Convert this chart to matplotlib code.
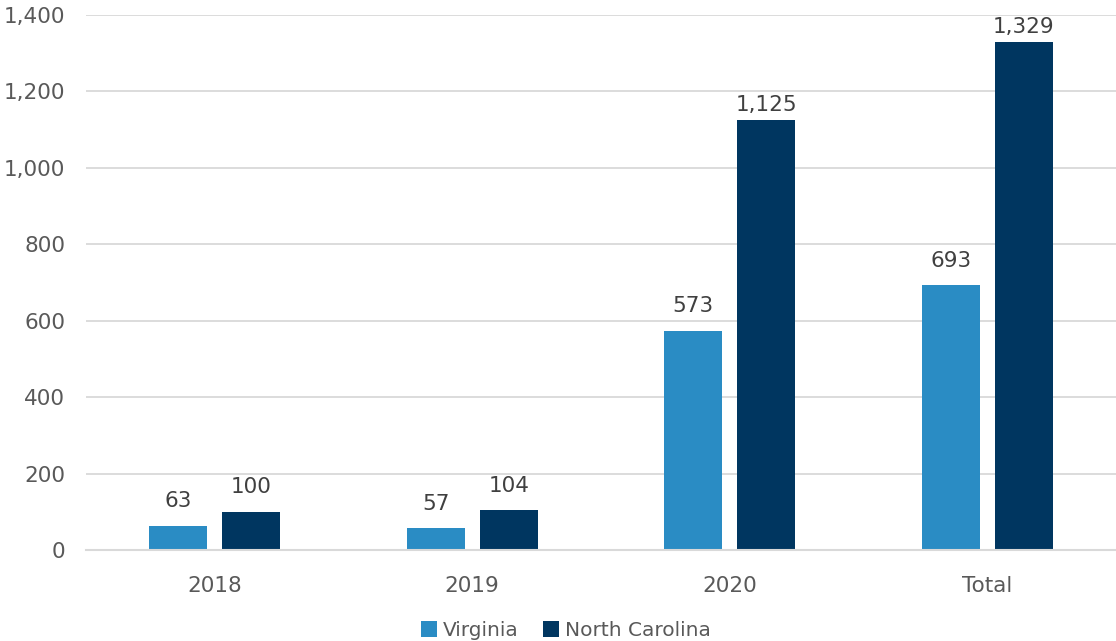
import numpy as np
import matplotlib
matplotlib.use('Agg')
import matplotlib.pyplot as plt

categories = ['2018', '2019', '2020', 'Total']
virginia = [63, 57, 573, 693]
north_carolina = [100, 104, 1125, 1329]
y_ticks = [0, 200, 400, 600, 800, 1000, 1200, 1400]

plt.rcParams['font.family'] = ['DejaVu Sans']
text_color = '#595959'

fig = plt.figure(figsize=(11.16, 6.41), dpi=100)
ax = fig.add_axes([86 / 1116, 91 / 641, 1030 / 1116, 535 / 641])

x = np.arange(len(categories))
width = 0.225
offset = 0.1416
bars_va = ax.bar(x - offset, virginia, width, color='#2A8CC4', label='Virginia', zorder=3)
bars_nc = ax.bar(x + offset, north_carolina, width, color='#003660', label='North Carolina', zorder=3)

# valores encima de cada barra (las altas quedan más pegadas por el tope del eje)
for bars in (bars_va, bars_nc):
    for b in bars:
        h = b.get_height()
        pad = 4 if h > 1000 else 10.5
        ax.annotate(f'{h:,.0f}', (b.get_x() + b.get_width() / 2, h),
                    xytext=(0, pad), textcoords='offset points',
                    ha='center', va='bottom', fontsize=15.5, color='#404040')

ax.set_xlim(-0.5, 3.5)
ax.set_ylim(0, 1400)
ax.set_yticks(y_ticks)
ax.set_yticklabels([f'{v:,}' for v in y_ticks])
ax.set_xticks(x)
ax.set_xticklabels(categories)
ax.tick_params(axis='both', length=0, labelsize=15.5, colors=text_color)
ax.tick_params(axis='y', pad=15)
ax.tick_params(axis='x', pad=19)
ax.yaxis.grid(True, color='#D9D9D9', linewidth=1.3, zorder=0)
for side in ('top', 'right', 'left'):
    ax.spines[side].set_visible(False)
ax.spines['bottom'].set_color('#D9D9D9')
ax.spines['bottom'].set_linewidth(1.5)
ax.spines['bottom'].set_zorder(4)

leg = fig.legend(loc='lower center', bbox_to_anchor=(0.507, -0.027), ncol=2, frameon=False,
                 fontsize=14.5, handlelength=0.8, handleheight=0.8, handletextpad=0.3,
                 columnspacing=1.2)
for t in leg.get_texts():
    t.set_color(text_color)

fig.savefig('out.png', dpi=100)
